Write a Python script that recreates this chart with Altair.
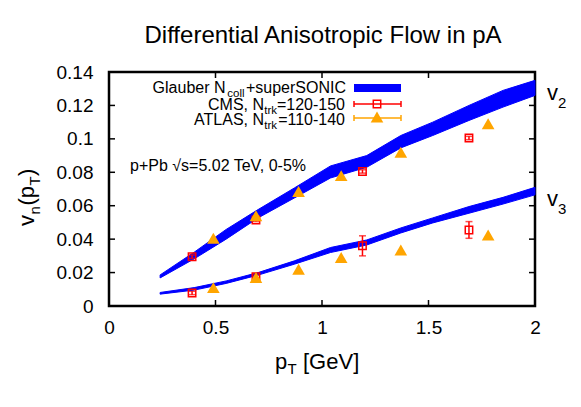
import altair as alt
import pandas as pd

FONT = "Liberation Sans"

# ---- data ----
band_pt = [0.24, 0.40, 0.55, 0.70, 0.87, 1.04, 1.21, 1.37, 1.52, 1.69, 1.85, 2.00]
v2_lo = [0.0168, 0.0282, 0.0400, 0.0527, 0.0646, 0.0766, 0.0830, 0.0946, 0.1020, 0.1110, 0.1190, 0.1260]
v2_hi = [0.0186, 0.0322, 0.0458, 0.0577, 0.0706, 0.0838, 0.0900, 0.1020, 0.1100, 0.1200, 0.1290, 0.1350]
v3_lo = [0.0071, 0.0095, 0.0135, 0.0185, 0.0250, 0.0320, 0.0365, 0.0437, 0.0497, 0.0555, 0.0610, 0.0665]
v3_hi = [0.0081, 0.0110, 0.0150, 0.0200, 0.0270, 0.0350, 0.0395, 0.0467, 0.0527, 0.0595, 0.0650, 0.0710]

cms_pt = [0.39, 0.69, 1.19, 1.69]
cms_v2 = [0.0295, 0.0515, 0.0805, 0.1005]
cms_v2_err = [0.001, 0.001, 0.001, 0.001]
cms_v3 = [0.0078, 0.0175, 0.0360, 0.0455]
cms_v3_err = [0.001, 0.001, 0.006, 0.005]

atlas_pt = [0.49, 0.69, 0.89, 1.09, 1.37, 1.78]
atlas_v2 = [0.0405, 0.0540, 0.0685, 0.0780, 0.0920, 0.1090]
atlas_v3 = [0.0110, 0.0170, 0.0220, 0.0290, 0.0335, 0.0425]

x_ticks = [0.5, 1.0, 1.5]
y_ticks = [0.02, 0.04, 0.06, 0.08, 0.10, 0.12]
x_labels = [0, 0.5, 1, 1.5, 2]
y_labels = [0, 0.02, 0.04, 0.06, 0.08, 0.1, 0.12, 0.14]

BLUE = "#0000ff"
RED = "#ff0000"
ORANGE = "#ffa500"

W, H = 426, 234

band = pd.DataFrame({"pt": band_pt, "v2lo": v2_lo, "v2hi": v2_hi, "v3lo": v3_lo, "v3hi": v3_hi})
cms = pd.DataFrame({
    "pt": cms_pt + cms_pt,
    "v": cms_v2 + cms_v3,
    "err": cms_v2_err + cms_v3_err,
})
cms["lo"] = cms["v"] - cms["err"]
cms["hi"] = cms["v"] + cms["err"]
atlas = pd.DataFrame({"pt": atlas_pt + atlas_pt, "v": atlas_v2 + atlas_v3})
dummy = pd.DataFrame({"a": [0]})

xs = alt.Scale(domain=[0, 2], nice=False, zero=False)
ys = alt.Scale(domain=[0, 0.14], nice=False, zero=False)

xaxis = alt.Axis(values=x_labels, format="~g", ticks=False, tickSize=0, domain=False, grid=False,
                 labelFontSize=19, labelFont=FONT, labelColor="black", labelPadding=12,
                 labelFlush=False, labelOverlap=False, title=None)
yaxis = alt.Axis(values=y_labels, format="~g", ticks=False, tickSize=0, domain=False, grid=False,
                 labelFontSize=19, labelFont=FONT, labelColor="black", labelPadding=16,
                 labelFlush=False, labelOverlap=False, title=None)

X = lambda f: alt.X(f"{f}:Q", scale=xs, axis=xaxis)
Y = lambda f: alt.Y(f"{f}:Q", scale=ys, axis=yaxis)

layers = []

# bands
for lo, hi in [("v2lo", "v2hi"), ("v3lo", "v3hi")]:
    layers.append(
        alt.Chart(band).mark_area(color=BLUE, opacity=1, stroke=BLUE, strokeWidth=1)
        .encode(x=X("pt"), y=Y(lo), y2=alt.Y2(hi))
    )

# CMS error bars and points
layers.append(alt.Chart(cms).mark_rule(color=RED, strokeWidth=1.5).encode(x=X("pt"), y=Y("lo"), y2=alt.Y2("hi")))
layers.append(alt.Chart(cms).mark_tick(color=RED, orient="horizontal", size=7, thickness=1.5).encode(x=X("pt"), y=Y("lo")))
layers.append(alt.Chart(cms).mark_tick(color=RED, orient="horizontal", size=7, thickness=1.5).encode(x=X("pt"), y=Y("hi")))
layers.append(alt.Chart(cms).mark_point(shape="square", filled=False, color=RED, size=55, strokeWidth=1.5, opacity=1)
              .encode(x=X("pt"), y=Y("v")))

# ATLAS points
layers.append(alt.Chart(atlas).mark_point(shape="triangle-up", filled=True, color=ORANGE, size=160, opacity=1)
              .encode(x=X("pt"), y=Y("v")))

# inward ticks
xt = pd.DataFrame({"t": x_ticks})
yt = pd.DataFrame({"t": y_ticks})
for y0, y1 in [(H, H - 6), (0, 6)]:
    layers.append(alt.Chart(xt).mark_rule(color="black", strokeWidth=1.5)
                  .encode(x=X("t"), y=alt.value(y0), y2=alt.value(y1)))
for x0, x1 in [(0, 6), (W, W - 6)]:
    layers.append(alt.Chart(yt).mark_rule(color="black", strokeWidth=1.5)
                  .encode(y=Y("t"), x=alt.value(x0), x2=alt.value(x1)))


def txt(s, x, y, size, align="left", angle=0):
    kw = dict(text=s, fontSize=size, font=FONT, align=align, baseline="alphabetic", color="black")
    if angle:
        kw["angle"] = angle
    return alt.Chart(dummy).mark_text(**kw).encode(x=alt.value(x), y=alt.value(y))


# title
layers.append(txt("Differential Anisotropic Flow in pA", 214, -29, 24, align="center"))

# y title (rotated, with subscripts)
layers.append(txt("v", -75, 154, 22, angle=270))
layers.append(txt("n", -69, 142.5, 15, angle=270))
layers.append(txt("(p", -75, 133.5, 22, angle=270))
layers.append(txt("T", -69, 113.5, 15, angle=270))
layers.append(txt(")", -75, 104, 22, angle=270))

# x title
layers.append(txt("p", 166, 297, 22))
layers.append(txt("T", 178.5, 302, 15))
layers.append(txt("[GeV]", 194, 297, 22))

# legend text
layers.append(txt("+superSONIC", 237, 21, 16, align="right"))
layers.append(txt("coll", 135.5, 25, 11.5, align="right"))
layers.append(txt("Glauber N", 116.5, 21, 16, align="right"))
layers.append(txt("=120-150", 236, 37.5, 16, align="right"))
layers.append(txt("trk", 168, 41.5, 11.5, align="right"))
layers.append(txt("CMS, N", 155, 37.5, 16, align="right"))
layers.append(txt("=110-140", 236, 53, 16, align="right"))
layers.append(txt("trk", 168, 57, 11.5, align="right"))
layers.append(txt("ATLAS, N", 155, 53, 16, align="right"))

# legend samples
layers.append(alt.Chart(dummy).mark_rect(color=BLUE).encode(x=alt.value(245), x2=alt.value(292), y=alt.value(12), y2=alt.value(20)))
layers.append(alt.Chart(dummy).mark_rule(color=RED, strokeWidth=1.5).encode(x=alt.value(245), x2=alt.value(292), y=alt.value(32)))
layers.append(alt.Chart(dummy).mark_rule(color=RED, strokeWidth=1.5).encode(x=alt.value(245), y=alt.value(29), y2=alt.value(35)))
layers.append(alt.Chart(dummy).mark_rule(color=RED, strokeWidth=1.5).encode(x=alt.value(292), y=alt.value(29), y2=alt.value(35)))
layers.append(alt.Chart(dummy).mark_point(shape="square", filled=False, color=RED, size=55, strokeWidth=1.5, opacity=1)
              .encode(x=alt.value(268), y=alt.value(32)))
layers.append(alt.Chart(dummy).mark_rule(color=ORANGE, strokeWidth=1.5).encode(x=alt.value(245), x2=alt.value(292), y=alt.value(46)))
layers.append(alt.Chart(dummy).mark_rule(color=ORANGE, strokeWidth=1.5).encode(x=alt.value(245), y=alt.value(43), y2=alt.value(49)))
layers.append(alt.Chart(dummy).mark_rule(color=ORANGE, strokeWidth=1.5).encode(x=alt.value(292), y=alt.value(43), y2=alt.value(49)))
layers.append(alt.Chart(dummy).mark_point(shape="triangle-up", filled=True, color=ORANGE, size=160, opacity=1)
              .encode(x=alt.value(268), y=alt.value(45)))

# annotation
layers.append(txt("p+Pb \u221as=5.02 TeV, 0-5%", 21, 99, 16))

# v2 / v3 labels
layers.append(txt("v", 438, 28, 22))
layers.append(txt("2", 449, 36, 15))
layers.append(txt("v", 438, 134, 22))
layers.append(txt("3", 449, 142, 15))

chart = alt.layer(*layers).properties(
    width=W, height=H,
    autosize=alt.AutoSizeParams(type="none"),
    padding={"left": 101, "top": 64, "right": 38, "bottom": 93},
    background="white",
).configure_view(stroke="black", strokeWidth=2.5)

chart.save("out.html", embed_options={"renderer": "svg", "actions": False})
